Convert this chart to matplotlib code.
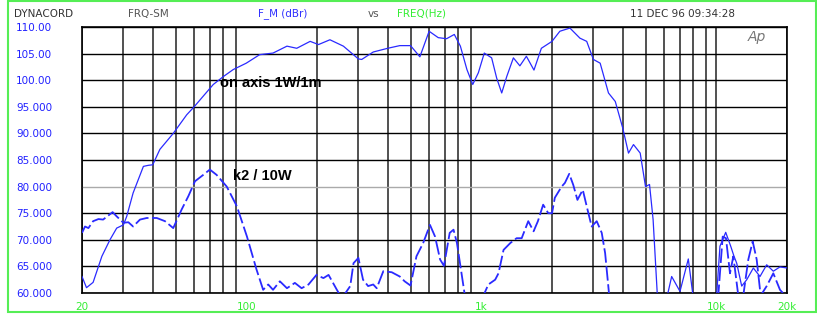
import matplotlib
matplotlib.use('Agg')
import matplotlib.pyplot as plt
from matplotlib.patches import Rectangle

# risposta in asse 1W/1m (linea continua)
f_axis = [20, 20.9, 22.3, 24.3, 26.3, 28.1, 30, 31, 33, 36.5, 38.3, 40, 42.9, 48.9,
          55.8, 60, 65.6, 72.4, 80, 88, 100, 114, 130, 149, 164, 187, 203, 227, 259,
          300, 310, 347, 400, 450, 500, 548, 600, 656, 712, 768, 815, 869, 920, 972,
          1030, 1107, 1163, 1222, 1284, 1370, 1460, 1556, 1676, 1802, 2000, 2160, 2384,
          2630, 2810, 3000, 3206, 3478, 3718, 4000, 4232, 4444, 4746, 5000, 5200, 5386,
          5640, 6154, 6460, 7010, 7604, 8040, 9000, 9980, 10370, 10970, 11520, 11900,
          12220, 12830, 13480, 14380, 15350, 16390, 17490, 18670, 20000]
db_axis = [63.1, 61.0, 62.0, 66.9, 70.0, 72.2, 72.8, 74.4, 78.8, 83.8, 84.0, 84.1, 87.0, 90.0,
           93.5, 95.0, 97.0, 99.2, 100.7, 102.0, 103.2, 104.8, 105.1, 106.4, 106.0, 107.3, 106.7, 107.6, 106.4,
           104.0, 103.9, 105.3, 106.0, 106.5, 106.5, 104.4, 109.2, 108.0, 107.8, 108.6, 106.4, 102.0, 99.2, 101.4,
           105.1, 104.2, 100.4, 97.6, 100.7, 104.2, 102.7, 104.5, 101.9, 106.0, 107.3, 109.2, 109.8,
           107.9, 107.3, 103.9, 103.2, 97.6, 96.0, 91.0, 86.3, 87.9, 86.3, 80.0, 80.4, 73.8,
           58.0, 59.0, 63.1, 60.3, 66.4, 58.0, 50.0, 58.0, 68.8, 71.4, 68.8, 66.9,
           65.6, 61.3, 62.5, 64.7, 63.1, 65.3, 64.1, 64.9, 64.7]

# k2 a 10W (linea tratteggiata)
f_k2 = [20, 20.6, 21.3, 22.3, 23.5, 24.6, 27, 28.1, 30, 31.5, 33, 35.3, 37.7, 41.6, 45.1,
        48.9, 53.1, 56.7, 60.5, 65.6, 70, 74.8, 82.6, 91.2, 100.7, 110.6, 118, 124, 130,
        139, 149, 161, 172, 184, 199, 213, 224, 243, 255, 277, 286, 300, 314, 330, 347,
        359, 383, 416, 450, 472, 500, 530, 566, 605, 636, 668, 694, 734, 762, 788, 828,
        855, 930, 1021, 1072, 1146, 1184, 1244, 1330, 1414, 1486, 1585, 1670, 1742, 1834,
        1928, 2000, 2056, 2198, 2270, 2368, 2464, 2566, 2704, 2810, 2950, 3100, 3256, 3366,
        3512, 5000, 9900, 10200, 10650, 11000, 11440, 11820, 12410, 13030, 13690, 14290,
        14860, 15450, 16390, 17490, 18670, 19700]
db_k2 = [71.3, 72.5, 72.2, 73.5, 73.9, 73.8, 75.2, 74.4, 73.2, 73.3, 72.5, 73.8, 74.1, 74.1, 73.5,
         72.2, 75.7, 78.2, 81.0, 82.2, 83.2, 82.2, 80.0, 76.3, 70.6, 64.4, 60.6, 61.6, 60.6,
         62.2, 60.9, 61.9, 60.9, 61.6, 63.4, 62.8, 63.4, 60.6, 59.0, 61.3, 65.6, 66.6, 62.5, 61.3, 61.6,
         60.9, 64.1, 63.9, 63.1, 62.2, 61.4, 66.9, 69.4, 72.8, 70.6, 66.3, 65.1, 71.3, 71.9, 69.4, 63.1,
         59.0, 55.0, 59.5, 61.6, 62.5, 63.7, 68.1, 69.4, 70.3, 70.3, 73.5, 71.6, 73.5, 76.6,
         75.0, 75.0, 77.9, 80.0, 80.7, 82.4, 80.3, 77.5, 79.4, 76.3, 72.5, 73.5, 71.3, 67.5,
         59.0, 50.0, 50.0, 59.5, 70.6, 70.3, 63.7, 66.9, 59.5, 59.5, 66.3, 69.7,
         66.3, 59.5, 61.3, 63.7, 60.6, 59.5]

y_ticks = [60, 65, 70, 75, 80, 85, 90, 95, 100, 105, 110]
y_labels = ['60.000', '65.000', '70.000', '75.000', '80.000', '85.000', '90.000',
            '95.000', '100.00', '105.00', '110.00']
x_ticks = [20, 100, 1000, 10000, 20000]
x_labels = ['20', '100', '1k', '10k', '20k']

blu = '#2a2aff'
verde = '#33ee33'

fig = plt.figure(figsize=(8.17, 3.16), dpi=100)
ax = fig.add_axes([82/817, 1-293/316, 705/817, 266/316])

# griglia
griglia_x = [v * d for d in (10, 100, 1000) for v in range(2, 10)] + [10000, 20000]
for gx in griglia_x:
    ax.axvline(gx, color='#222222', lw=1.1, zorder=1)
for gy in y_ticks:
    ax.axhline(gy, color='#aaaaaa' if gy == 80 else 'black', lw=1.0, zorder=1)

ax.plot(f_axis, db_axis, color=blu, lw=0.9, zorder=3)
ax.plot(f_k2, db_k2, color=blu, lw=1.3, dashes=(8, 2), zorder=3)

ax.set_xscale('log')
ax.set_xlim(20, 20000)
ax.set_ylim(60, 110)
ax.set_yticks(y_ticks)
ax.set_yticklabels(y_labels, color='#2020ff', fontsize=7.5)
ax.set_xticks(x_ticks)
ax.set_xticklabels(x_labels, color=verde, fontsize=7.5)
ax.minorticks_off()
ax.tick_params(length=0, axis='y', pad=21.5)
ax.tick_params(length=0, axis='x', pad=6.5)
for s in ax.spines.values():
    s.set_color('black')
    s.set_linewidth(1.2)

fig.text(220/817, 1-83/316, 'on axis 1W/1m', fontsize=10.5, fontweight='bold',
         family='Liberation Sans', va='center', ha='left')
fig.text(233/817, 1-176/316, 'k2 / 10W', fontsize=10.5, fontweight='bold',
         family='Liberation Sans', va='center', ha='left')
fig.text(748/817, 1-37/316, 'Ap', fontsize=10, fontstyle='italic', color='#777777',
         va='center', ha='left')

# intestazione
fig.text(14/817, 1-14/316, 'DYNACORD', fontsize=7.5, color='#333333', va='center')
fig.text(128/817, 1-14/316, 'FRQ-SM', fontsize=7.5, color='#555555', va='center')
fig.text(258/817, 1-14/316, 'F_M (dBr)', fontsize=7.5, color='#3030ff', va='center')
fig.text(368/817, 1-14/316, 'vs', fontsize=7.5, color='#555555', va='center')
fig.text(397/817, 1-14/316, 'FREQ(Hz)', fontsize=7.5, color=verde, va='center')
fig.text(630/817, 1-14/316, '11 DEC 96 09:34:28', fontsize=7.5, color='#333333', va='center')

# cornice verde
fig.patches.append(Rectangle((8/817, 1-312/316), 808/817, 311/316, fill=False,
                             edgecolor='#55ee55', lw=1.5, transform=fig.transFigure))

fig.savefig('out.png', dpi=100)
